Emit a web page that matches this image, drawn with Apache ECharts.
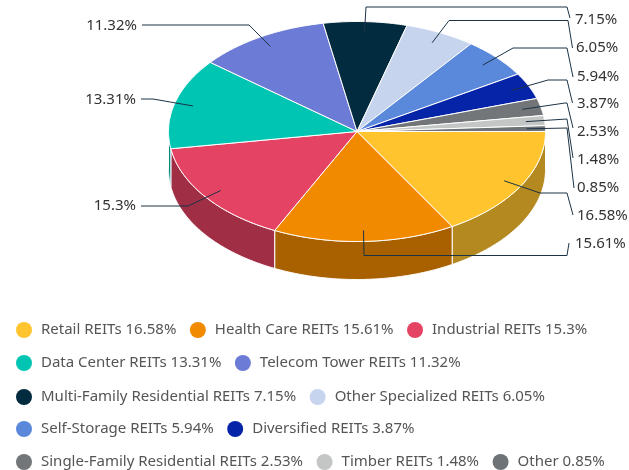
<!DOCTYPE html>
<html>
<head>
<meta charset="utf-8" />
<style>
  html, body { margin: 0; padding: 0; background: #fff; }
  #chart { width: 629px; height: 470px; }
</style>
<script src="https://cdn.jsdelivr.net/npm/echarts@6/dist/echarts.min.js"></script>
</head>
<body>
<div id="chart"></div>
<script>
const categories = [
  "Retail REITs", "Health Care REITs", "Industrial REITs", "Data Center REITs",
  "Telecom Tower REITs", "Multi-Family Residential REITs", "Other Specialized REITs",
  "Self-Storage REITs", "Diversified REITs", "Single-Family Residential REITs",
  "Timber REITs", "Other",
];
const shares = [16.58, 15.61, 15.3, 13.31, 11.32, 7.15, 6.05, 5.94, 3.87, 2.53, 1.48, 0.85];
const colors = [
  "#FFC42E", "#F28A00", "#E54364", "#00C5B3", "#6C7BD5", "#032B3F",
  "#C6D4EE", "#5A89DC", "#0624A8", "#737679", "#C4C6C6", "#6E7378",
];

// which legend items share a row
const legendRows = [[0, 1, 2], [3, 4], [5, 6], [7, 8], [9, 10, 11]];
const legendRowTops = [322, 355, 389, 421, 454];

// leader line route per slice: points after the anchor, then label position
const labelRoutes = [
  { line: [[540, 193], [567, 193], [573, 215]], at: [577, 216] },
  { line: [[364, 255.5], [567, 255.5], [569, 243]], at: [575, 244] },
  { line: [[188, 206], [141, 206]], at: [136, 206], left: true },
  { line: [[153, 99], [141, 99]], at: [136, 100], left: true },
  { line: [[249, 25], [142, 25]], at: [137, 26], left: true },
  { line: [[366, 7], [567, 7], [570, 18]], at: [575, 20] },
  { line: [[449, 20.5], [568, 20.5], [572.5, 48]], at: [576, 48] },
  { line: [[513, 48], [567, 48], [573, 77]], at: [577, 77] },
  { line: [[548, 80], [567, 80], [572.5, 103]], at: [577, 104] },
  { line: [[565, 103], [567, 103], [573, 128]], at: [577, 132] },
  { line: [[567, 119], [573, 158]], at: [577, 160] },
  { line: [[567, 128], [574, 188]], at: [577, 188] },
];

const cx = 357;
const cy = 131.5;
const rx = 188.5;
const ry = 110;
const depth = 38;
const total = shares.reduce((a, b) => a + b, 0);

function arcPoints(from, to, yOffset) {
  const pts = [];
  const steps = Math.max(2, Math.ceil((to - from) / 0.01));
  for (let i = 0; i <= steps; i++) {
    const a = from + ((to - from) * i) / steps;
    pts.push([cx + rx * Math.cos(a), cy + yOffset + ry * Math.sin(a)]);
  }
  return pts;
}

// wall shade is the slice colour at 70% brightness
function darken(color) {
  const rgba = echarts.color.parse(color);
  return "rgb(" + rgba.slice(0, 3).map((c) => Math.round(c * 0.7)).join(",") + ")";
}

function makeSlice(index) {
  const before = shares.slice(0, index).reduce((a, b) => a + b, 0);
  return function (params, api) {
    const value = api.value(0);
    const from = (before / total) * Math.PI * 2;
    const to = ((before + value) / total) * Math.PI * 2;
    const mid = (from + to) / 2;
    const children = [];

    // outer wall, only the part facing the viewer
    const wallTo = Math.min(to, Math.PI);
    if (from < Math.PI) {
      const top = arcPoints(from, wallTo, 0);
      const bottom = arcPoints(from, wallTo, depth).reverse();
      children.push({
        type: "polygon",
        shape: { points: top.concat(bottom) },
        style: {
          fill: darken(colors[index]),
          stroke: "#fff",
          lineWidth: 1,
        },
      });
    }

    children.push({
      type: "polygon",
      shape: { points: [[cx, cy]].concat(arcPoints(from, to, 0)) },
      style: { fill: colors[index], stroke: "#fff", lineWidth: 1 },
      z2: 2,
    });

    const route = labelRoutes[index];
    const anchor = [cx + rx * 0.9 * Math.cos(mid), cy + ry * 0.9 * Math.sin(mid)];
    children.push({
      type: "polyline",
      shape: { points: [anchor].concat(route.line) },
      style: { fill: "none", stroke: "#1c3345", lineWidth: 1 },
      z2: 10,
    });
    children.push({
      type: "text",
      style: {
        text: value + "%",
        x: route.at[0],
        y: route.at[1],
        align: route.left ? "right" : "left",
        verticalAlign: "middle",
        fill: "#333",
        font: '15px "Noto Sans"',
      },
      z2: 11,
    });

    return { type: "group", children };
  };
}

const chart = echarts.init(document.getElementById("chart"));

chart.setOption({
  animation: false,
  legend: legendRows.map((row, i) => ({
    data: row.map((k) => categories[k]),
    left: 16,
    top: legendRowTops[i],
    padding: 0,
    itemGap: 13.5,
    itemWidth: 16,
    itemHeight: 16,
    icon: "circle",
    selectedMode: false,
    formatter: (name) => name + " " + shares[categories.indexOf(name)] + "%",
    textStyle: {
      color: "#555",
      fontSize: 15,
      fontFamily: "Noto Sans",
      padding: [0, 0, 0, 4],
    },
  })),
  series: categories.map((name, i) => ({
    type: "custom",
    name: name,
    coordinateSystem: "none",
    silent: true,
    itemStyle: { color: colors[i] },
    data: [[shares[i]]],
    renderItem: makeSlice(i),
  })),
});
</script>
</body>
</html>
